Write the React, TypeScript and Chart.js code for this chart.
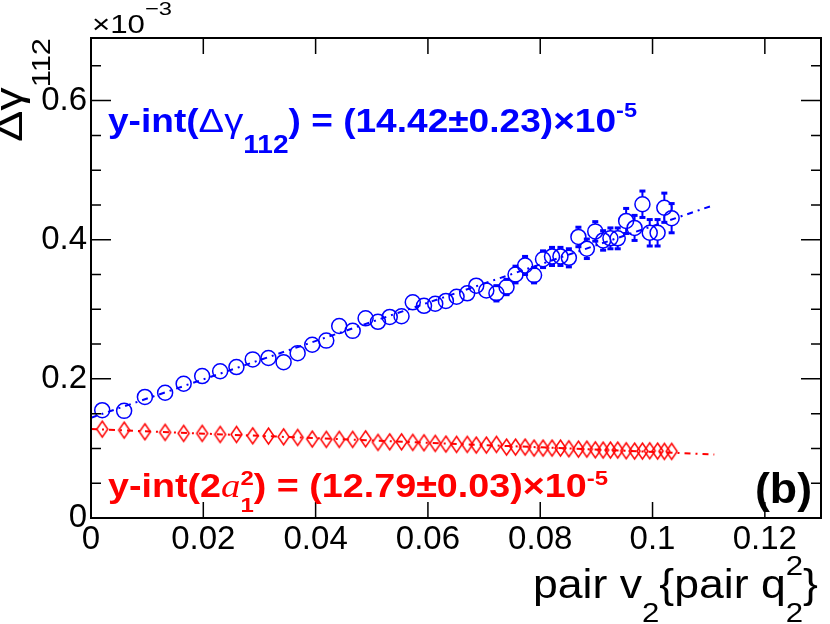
import { useEffect, useRef } from "react"
import { Chart, registerables } from "chart.js"

Chart.register(...registerables)

// pair v2{pair q2^2} bins (shared by both series)
const pairV2 = [
  0.002, 0.0059, 0.0096, 0.0132, 0.0165, 0.0198, 0.023, 0.0259, 0.0288, 0.0316,
  0.0343, 0.0368, 0.0394, 0.0419, 0.0442, 0.0466, 0.0489, 0.0511, 0.0532, 0.0553,
  0.0573, 0.0593, 0.0613, 0.0632, 0.0651, 0.067, 0.0686, 0.0704, 0.0722, 0.074,
  0.0756, 0.0773, 0.0789, 0.0805, 0.0821, 0.0836, 0.0851, 0.0868, 0.0883, 0.0898,
  0.0912, 0.0925, 0.0938, 0.0953, 0.0968, 0.0982, 0.0995, 0.1009, 0.1021, 0.1034,
]

// Δγ112 (x10^-3)
const deltaGamma = [
  0.155, 0.154, 0.174, 0.18, 0.193, 0.204, 0.211, 0.217, 0.228, 0.23,
  0.224, 0.237, 0.249, 0.255, 0.276, 0.269, 0.287, 0.282, 0.289, 0.29,
  0.31, 0.305, 0.308, 0.312, 0.318, 0.323, 0.334, 0.327, 0.323, 0.332,
  0.35, 0.363, 0.349, 0.372, 0.376, 0.376, 0.374, 0.404, 0.387, 0.412,
  0.399, 0.402, 0.402, 0.427, 0.417, 0.451, 0.41, 0.41, 0.446, 0.431,
]
const deltaGammaErr = [
  0.004, 0.004, 0.004, 0.004, 0.005, 0.005, 0.005, 0.005, 0.005, 0.006,
  0.006, 0.006, 0.006, 0.006, 0.007, 0.007, 0.007, 0.007, 0.008, 0.008,
  0.008, 0.008, 0.009, 0.009, 0.009, 0.01, 0.01, 0.01, 0.011, 0.011,
  0.012, 0.013, 0.011, 0.012, 0.013, 0.013, 0.013, 0.014, 0.014, 0.014,
  0.014, 0.015, 0.015, 0.018, 0.018, 0.019, 0.019, 0.019, 0.021, 0.021,
]

// 2a1^2 (x10^-3)
const twoA1Sq = [
  0.1277, 0.1263, 0.1239, 0.123, 0.1216, 0.1216, 0.1201, 0.1201, 0.1181, 0.1177,
  0.1167, 0.1158, 0.1134, 0.113, 0.113, 0.113, 0.1138, 0.1087, 0.1095, 0.1095,
  0.1087, 0.1081, 0.1072, 0.1062, 0.1058, 0.1058, 0.1048, 0.1048, 0.1058, 0.1019,
  0.1019, 0.1019, 0.1005, 0.1005, 0.1005, 0.1005, 0.0995, 0.099, 0.099, 0.098,
  0.0976, 0.0976, 0.0976, 0.0966, 0.0962, 0.0962, 0.0966, 0.0962, 0.0957, 0.0957,
]

// linear fits (end points)
const fitX = [0, 0.111]
const deltaGammaFit = [0.1442, 0.45]
const twoA1SqFit = [0.1279, 0.0914]

const xTicks = [0, 0.02, 0.04, 0.06, 0.08, 0.1, 0.12]
const yTicks = [0, 0.2, 0.4, 0.6]

const BLUE = "#0000ff"
const RED = "#ff0000"
const SANS = "Liberation Sans"

type Seg = { t: string; font: string; dy?: number; hold?: boolean }

// draws sub/superscript text, stretched horizontally to a given width
function drawRich(
  ctx: CanvasRenderingContext2D,
  segs: Seg[],
  x: number,
  y: number,
  width: number,
  color: string,
  rotate = false
) {
  ctx.save()
  let natural = 0
  for (const s of segs) {
    ctx.font = s.font
    if (!s.hold) natural += ctx.measureText(s.t).width
  }
  ctx.translate(x, y)
  if (rotate) ctx.rotate(-Math.PI / 2)
  ctx.scale(width / natural, 1)
  ctx.fillStyle = color
  ctx.textAlign = "left"
  ctx.textBaseline = "alphabetic"
  let cx = 0
  for (const s of segs) {
    ctx.font = s.font
    ctx.fillText(s.t, cx, s.dy ?? 0)
    if (!s.hold) cx += ctx.measureText(s.t).width
  }
  ctx.restore()
}

function makeDiamond(color: string, w: number, h: number) {
  const c = document.createElement("canvas")
  c.width = w + 4
  c.height = h + 4
  const g = c.getContext("2d")!
  g.strokeStyle = color
  g.lineWidth = 1.5
  g.beginPath()
  g.moveTo(c.width / 2, 2)
  g.lineTo(c.width - 2, c.height / 2)
  g.lineTo(c.width / 2, c.height - 2)
  g.lineTo(2, c.height / 2)
  g.closePath()
  g.stroke()
  return c
}

const rootStyle = {
  id: "rootStyle",
  afterDatasetsDraw(chart: any) {
    const ctx: CanvasRenderingContext2D = chart.ctx
    const { left, right, top, bottom } = chart.chartArea
    const xs = chart.scales.x
    const ys = chart.scales.y

    // error bars on Δγ
    const meta = chart.getDatasetMeta(2)
    ctx.save()
    ctx.strokeStyle = BLUE
    ctx.fillStyle = BLUE
    ctx.lineWidth = 2
    meta.data.forEach((pt: any, i: number) => {
      const yHi = ys.getPixelForValue(deltaGamma[i] + deltaGammaErr[i])
      const yLo = ys.getPixelForValue(deltaGamma[i] - deltaGammaErr[i])
      const r = 7.5
      if (pt.y - yHi <= r) return
      ctx.beginPath()
      ctx.moveTo(pt.x, pt.y - r)
      ctx.lineTo(pt.x, yHi)
      ctx.moveTo(pt.x, pt.y + r)
      ctx.lineTo(pt.x, yLo)
      ctx.stroke()
      ctx.fillRect(pt.x - 3, yHi - 1.5, 6, 3)
      ctx.fillRect(pt.x - 3, yLo - 1.5, 6, 3)
    })
    ctx.restore()

    // frame and inward ticks
    ctx.save()
    ctx.strokeStyle = "#000"
    ctx.lineWidth = 1.5
    ctx.beginPath()
    for (const v of xTicks) {
      const px = xs.getPixelForValue(v)
      ctx.moveTo(px, bottom)
      ctx.lineTo(px, bottom - 16)
      ctx.moveTo(px, top)
      ctx.lineTo(px, top + 16)
    }
    for (let k = 1; k * 0.05 < ys.max; k++) {
      const v = k * 0.05
      const py = ys.getPixelForValue(v)
      const len = k % 4 === 0 ? 20 : 10
      ctx.moveTo(left, py)
      ctx.lineTo(left + len, py)
      ctx.moveTo(right, py)
      ctx.lineTo(right - len, py)
    }
    ctx.stroke()
    ctx.lineWidth = 2
    ctx.strokeRect(left, top, right - left, bottom - top)
    ctx.restore()
  },
  afterDraw(chart: any) {
    const ctx: CanvasRenderingContext2D = chart.ctx

    drawRich(
      ctx,
      [
        { t: "×10", font: `25px ${SANS}` },
        { t: "−3", font: `19px ${SANS}`, dy: -18 },
      ],
      92, 33, 80, "#000"
    )

    drawRich(
      ctx,
      [
        { t: "Δγ", font: `38px ${SANS}` },
        { t: "112", font: `25px ${SANS}`, dy: 28 },
      ],
      22, 142, 104, "#000", true
    )

    drawRich(
      ctx,
      [
        { t: "y-int(", font: `bold 33px ${SANS}` },
        { t: "Δγ", font: `34px ${SANS}` },
        { t: "112", font: `bold 25px ${SANS}`, dy: 21 },
        { t: ") = (14.42±0.23)×10", font: `bold 33px ${SANS}` },
        { t: "-5", font: `bold 21px ${SANS}`, dy: -15 },
      ],
      108, 132, 529, BLUE
    )

    drawRich(
      ctx,
      [
        { t: "y-int(2", font: `bold 33px ${SANS}` },
        { t: "a", font: "italic 34px Liberation Serif" },
        { t: "2", font: `bold 21px ${SANS}`, dy: -12, hold: true },
        { t: "1", font: `bold 21px ${SANS}`, dy: 15 },
        { t: ") = (12.79±0.03)×10", font: `bold 33px ${SANS}` },
        { t: "-5", font: `bold 21px ${SANS}`, dy: -12 },
      ],
      108, 497, 500, RED
    )

    drawRich(ctx, [{ t: "(b)", font: `bold 42px ${SANS}` }], 755, 503, 57, "#000")

    drawRich(
      ctx,
      [
        { t: "pair v", font: `40px ${SANS}` },
        { t: "2", font: `28px ${SANS}`, dy: 24 },
        { t: "{pair q", font: `40px ${SANS}` },
        { t: "2", font: `28px ${SANS}`, dy: -23, hold: true },
        { t: "2", font: `28px ${SANS}`, dy: 24 },
        { t: "}", font: `40px ${SANS}` },
      ],
      533, 598, 285, "#000"
    )
  },
}

const fmt = (v: number | string) => String(Number(Number(v).toFixed(2)))

export default function App() {
  const chartRef = useRef<HTMLCanvasElement>(null)
  const chartInstance = useRef<Chart | null>(null)

  useEffect(() => {
    if (!chartRef.current) return

    if (chartInstance.current) {
      chartInstance.current.destroy()
    }

    const diamond = makeDiamond(RED, 11, 16)

    chartInstance.current = new Chart(chartRef.current, {
      type: "scatter",
      data: {
        datasets: [
          {
            label: "Δγ fit",
            data: fitX.map((x, i) => ({ x, y: deltaGammaFit[i] })),
            showLine: true,
            borderColor: BLUE,
            borderWidth: 2,
            borderDash: [6, 5, 2, 5],
            pointRadius: 0,
          },
          {
            label: "2a1^2 fit",
            data: fitX.map((x, i) => ({ x, y: twoA1SqFit[i] })),
            showLine: true,
            borderColor: RED,
            borderWidth: 2,
            borderDash: [6, 5, 2, 5],
            pointRadius: 0,
          },
          {
            label: "Δγ112",
            data: pairV2.map((x, i) => ({ x, y: deltaGamma[i] })),
            pointStyle: "circle",
            pointRadius: 7.5,
            borderColor: BLUE,
            backgroundColor: "rgba(0,0,0,0)",
            borderWidth: 1.5,
          },
          {
            label: "2a1^2",
            data: pairV2.map((x, i) => ({ x, y: twoA1Sq[i] })),
            pointStyle: diamond as any,
            pointRadius: 8,
          },
        ],
      },
      options: {
        animation: false,
        responsive: true,
        maintainAspectRatio: false,
        layout: { padding: { top: 38, right: 8, left: 0, bottom: 0 } },
        plugins: {
          legend: { display: false },
          tooltip: { enabled: false },
        },
        scales: {
          x: {
            type: "linear",
            min: 0,
            max: 0.13,
            afterBuildTicks: (s: any) => {
              s.ticks = xTicks.map((v) => ({ value: v }))
            },
            afterFit: (s: any) => {
              s.height = 106
            },
            grid: { display: false, drawTicks: false },
            border: { display: false },
            ticks: {
              font: { family: SANS, size: 33 },
              color: "#000",
              padding: 2,
              maxRotation: 0,
              autoSkip: false,
              callback: (v: any) => fmt(v),
            },
          },
          y: {
            type: "linear",
            min: 0,
            max: 0.69,
            afterBuildTicks: (s: any) => {
              s.ticks = yTicks.map((v) => ({ value: v }))
            },
            afterFit: (s: any) => {
              s.width = 91
            },
            grid: { display: false, drawTicks: false },
            border: { display: false },
            ticks: {
              font: { family: SANS, size: 33 },
              color: "#000",
              padding: 4,
              autoSkip: false,
              callback: (v: any) => fmt(v),
            },
          },
        },
      },
      plugins: [rootStyle],
    })

    return () => {
      if (chartInstance.current) {
        chartInstance.current.destroy()
        chartInstance.current = null
      }
    }
  }, [])

  return (
    <div style={{ position: "absolute", left: 0, top: 0, width: 830, height: 624, background: "#fff" }}>
      <canvas ref={chartRef} />
    </div>
  )
}
